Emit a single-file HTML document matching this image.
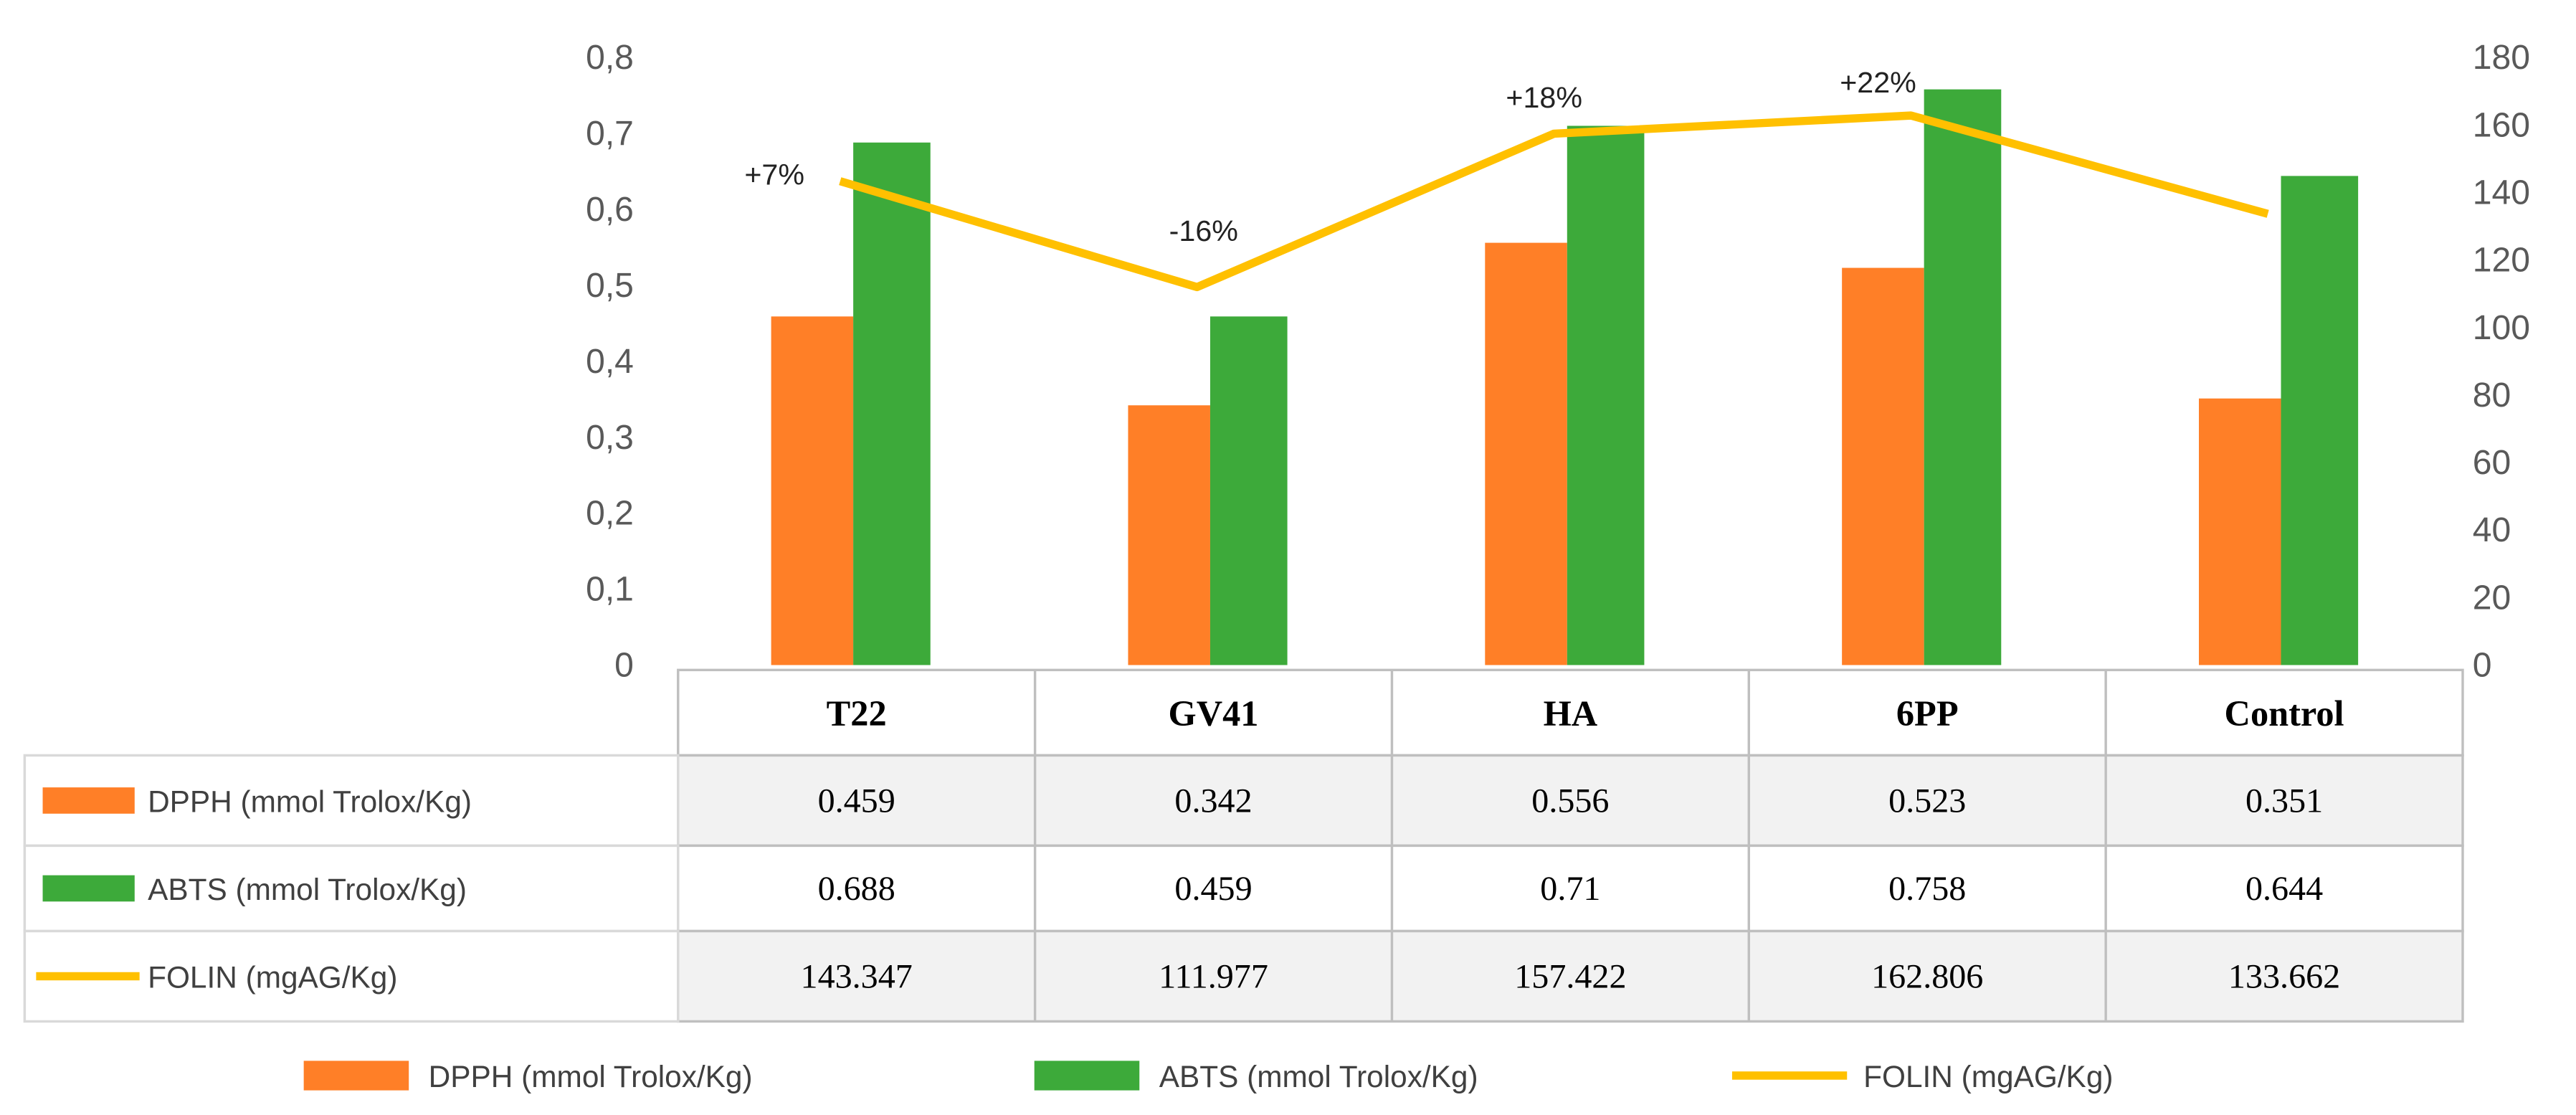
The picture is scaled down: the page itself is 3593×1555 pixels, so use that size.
<!DOCTYPE html>
<html><head><meta charset="utf-8"><style>
html,body{margin:0;padding:0;background:#fff;}
svg{display:block;}
.ax{font-family:"Liberation Sans",sans-serif;font-size:21px;fill:#595959;}
.hd{font-family:"Liberation Serif",serif;font-size:22px;font-weight:bold;fill:#000;}
.val{font-family:"Liberation Serif",serif;font-size:21px;fill:#000;}
.lg{font-family:"Liberation Sans",sans-serif;font-size:18.5px;fill:#404040;}
.ann{font-family:"Liberation Sans",sans-serif;font-size:18px;fill:#222;}
</style></head><body>
<svg id="chart" width="3593" height="1555" viewBox="0 0 1569 679" preserveAspectRatio="none" xmlns="http://www.w3.org/2000/svg"></svg>
<script>
const categories = ["T22","GV41","HA","6PP","Control"];
const dpph = [0.459,0.342,0.556,0.523,0.351];
const abts = [0.688,0.459,0.71,0.758,0.644];
const folin = [143.347,111.977,157.422,162.806,133.662];
const folinText = ["143.347","111.977","157.422","162.806","133.662"];
const annotations = ["+7%","-16%","+18%","+22%",""];
const leftTicks = ["0","0,1","0,2","0,3","0,4","0,5","0,6","0,7","0,8"];
const rightTicks = [0,20,40,60,80,100,120,140,160,180];

const NS="http://www.w3.org/2000/svg";
const svg=document.getElementById('chart');
function mk(tag,attrs,parent){const e=document.createElementNS(NS,tag);for(const k in attrs)e.setAttribute(k,attrs[k]);(parent||svg).appendChild(e);return e;}
const plotTop=35, plotBot=405, tblL=413, tblR=1500;
const colW=(tblR-tblL)/categories.length;
const yL=v=>plotBot-v/0.8*(plotBot-plotTop);
const yR=v=>plotBot-v/180*(plotBot-plotTop);
const xC=i=>tblL+colW*(i+0.5);
const ORANGE="#FF7F27", GREEN="#3DAA3A", YEL="#FFC000";

leftTicks.forEach((t,i)=>{
  const e=mk('text',{x:386,y:yL(i*0.1)+7,'text-anchor':'end',class:'ax'});e.textContent=t;
  
  
});
rightTicks.forEach(t=>{
  const e=mk('text',{x:1506,y:yR(t)+7,'text-anchor':'start',class:'ax'});e.textContent=t;
  
  
});

categories.forEach((c,i)=>{
  const cx=xC(i)-2;
  const b1=mk('rect',{x:cx-50,y:yL(dpph[i]),width:50,height:plotBot-yL(dpph[i]),fill:ORANGE});
  
  
  const b2=mk('rect',{x:cx,y:yL(abts[i]),width:47,height:plotBot-yL(abts[i]),fill:GREEN});
  
  
});

const pts=folin.map((v,i)=>(xC(i)-10)+','+yR(v)).join(' ');
const ln=mk('polyline',{points:pts,fill:'none',stroke:YEL,'stroke-width':5,'stroke-linejoin':'round'});


const annDx=[-40,4,-6,-20,0], annDy=[2,-28,-16,-14,0];
annotations.forEach((a,i)=>{
  if(!a)return;
  const e=mk('text',{x:xC(i)-10+annDx[i],y:yR(folin[i])+annDy[i],'text-anchor':'middle',class:'ann'});
  e.textContent=a;
  
  
});

const rowY=[408,460,515,567,622];
const fills=["#fff","#f2f2f2","#fff","#f2f2f2"];
for(let r=0;r<4;r++){
  const bg=mk('rect',{x:tblL,y:rowY[r],width:tblR-tblL,height:rowY[r+1]-rowY[r],fill:fills[r],stroke:'#bfbfbf','stroke-width':1.5});
  
  
  if(r>0){
    const lb=mk('rect',{x:15,y:rowY[r],width:tblL-15,height:rowY[r+1]-rowY[r],fill:'#fff',stroke:'#d9d9d9','stroke-width':1.5});
    
    
  }
}
for(let i=1;i<categories.length;i++){
  const l=mk('line',{x1:tblL+colW*i,x2:tblL+colW*i,y1:408,y2:622,stroke:'#bfbfbf','stroke-width':1.5});
  
  
}
const rows=[dpph.map(String),abts.map(String),folinText];
categories.forEach((c,i)=>{
  const h=mk('text',{x:xC(i),y:442,'text-anchor':'middle',class:'hd'});h.textContent=c;
  
  
  rows.forEach((r,k)=>{
    const t=mk('text',{x:xC(i),y:(rowY[k+1]+rowY[k+2])/2+7,'text-anchor':'middle',class:'val'});t.textContent=r[i];
    
    
  });
});
const labels=["DPPH  (mmol Trolox/Kg)","ABTS  (mmol Trolox/Kg)","FOLIN (mgAG/Kg)"];
labels.forEach((l,k)=>{
  const cy=(rowY[k+1]+rowY[k+2])/2;
  if(k<2){const s=mk('rect',{x:26,y:cy-8,width:56,height:16,fill:k?GREEN:ORANGE});
    
    }
  else{const s=mk('line',{x1:22,x2:85,y1:cy,y2:cy,stroke:YEL,'stroke-width':5});
    
    }
  const t=mk('text',{x:90,y:cy+7,class:'lg'});t.textContent=l;
  
  
});

const leg=[{x:185,c:ORANGE,t:labels[0]},{x:630,c:GREEN,t:labels[1]},{x:1055,c:YEL,t:labels[2],line:true}];
leg.forEach(o=>{
  let s;
  if(o.line)s=mk('line',{x1:o.x,x2:o.x+70,y1:655,y2:655,stroke:o.c,'stroke-width':5});
  else s=mk('rect',{x:o.x,y:646,width:64,height:18,fill:o.c});
  
  
  const t=mk('text',{x:o.x+(o.line?80:76),y:662,class:'lg'});t.textContent=o.t;
  
  
});
</script>
</body></html>
